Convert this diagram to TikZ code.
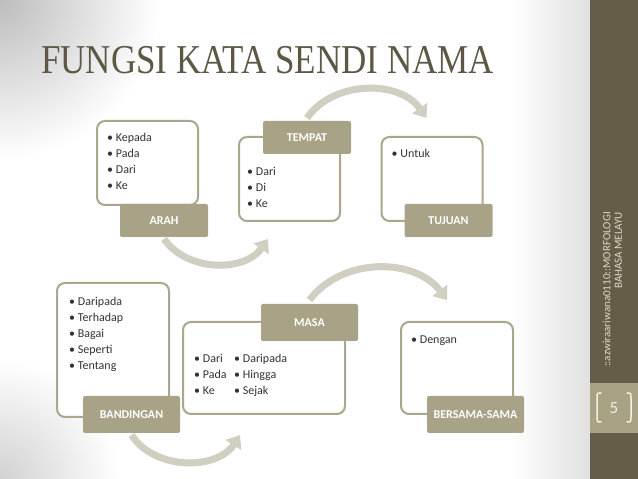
\documentclass[tikz,border=0pt]{standalone}
\usepackage{fontspec}
\setmainfont{Carlito}
\newfontfamily\titlefont[FakeStretch=0.853]{Liberation Serif}
\usetikzlibrary{positioning,arrows.meta,calc}
\definecolor{olivedark}{HTML}{655D47}
\definecolor{olivetag}{HTML}{A8A386}
\definecolor{oliveline}{HTML}{ABA78A}
\definecolor{olivepage}{HTML}{A6A282}
\definecolor{arcgrey}{HTML}{D0CFC2}
\definecolor{sidetext}{HTML}{DEDACA}
\definecolor{titlecol}{HTML}{5E5745}
\definecolor{numcol}{HTML}{F1EFE6}
\tikzset{
    every node/.style={font=\fontsize{12}{16}\selectfont},
    listbox/.style={rectangle,rounded corners=8pt,draw=oliveline,line width=2pt,fill=white,outer sep=0pt,minimum width=101pt,minimum height=84pt},
    tag/.style={rectangle,rounded corners=2pt,fill=olivetag,text=white,font=\fontsize{12}{14}\selectfont\bfseries,outer sep=0pt,minimum width=88pt,minimum height=33pt},
    bigtag/.style={tag,minimum width=97pt,minimum height=37pt},
    items/.style={align=left,inner sep=0pt,text=black!80},
    flow/.style={draw=arcgrey,line width=7pt,-{Triangle[width=18pt,length=12pt]}},
    numbrace/.style={draw=numcol,line width=1.5pt,line cap=round}
}
\begin{document}
\begin{tikzpicture}[x=1pt,y=1pt]
    \useasboundingbox (0,0) rectangle (638,479);
    \fill[white] (0,0) rectangle (638,479);
    \begin{scope}
        \clip (0,0) rectangle (590,479);
        \shade[inner color=black!26,outer color=white] (0,479) circle (160);
        \shade[inner color=black!18,outer color=white] (0,0) circle (120);
        \shade[left color=white,right color=black!12] (510,0) rectangle (590,479);
    \end{scope}
    \fill[olivedark] (590,0) rectangle (638,479);
    \fill[olivepage] (590,46) rectangle (638,96);

    \node[anchor=base west,inner sep=0pt,text=titlecol,font=\titlefont\fontsize{41}{41}\selectfont] (title) at (41,405) {FUNGSI KATA SENDI NAMA};

    \node[listbox] (arahbox) at (147.5,316) {};
    \node[listbox] (tempatbox) at (289.5,300) {};
    \node[listbox] (tujuanbox) at (432,300) {};
    \node[listbox,minimum width=112pt,minimum height=134pt] (bandinganbox) at (113,129) {};
    \node[listbox,minimum width=162pt,minimum height=92pt] (masabox) at (264,111) {};
    \node[listbox,minimum width=112pt,minimum height=92pt] (bersamabox) at (457,111) {};

    \node[tag,anchor=north east] (arah) at ([shift={(10,1)}]arahbox.south east) {ARAH};
    \node[tag,anchor=north east] (tempat) at ([shift={(11,16)}]tempatbox.north east) {TEMPAT};
    \node[tag,anchor=north east] (tujuan) at ([shift={(10,17)}]tujuanbox.south east) {TUJUAN};
    \node[bigtag,anchor=north east] (bandingan) at ([shift={(11,21)}]bandinganbox.south east) {BANDINGAN};
    \node[bigtag,anchor=north east] (masa) at ([shift={(13,18)}]masabox.north east) {MASA};
    \node[bigtag,anchor=north east] (bersama) at ([shift={(11,18)}]bersamabox.south east) {BERSAMA-SAMA};

    \node[items,below right=9pt and 10pt of arahbox.north west] (arahlist) {\strut• Kepada\\• Pada\\• Dari\\• Ke};
    \node[items,below right=27pt and 8pt of tempatbox.north west] (tempatlist) {\strut• Dari\\• Di\\• Ke};
    \node[items,below right=9pt and 10pt of tujuanbox.north west] (tujuanlist) {\strut• Untuk};
    \node[items,below right=11pt and 12pt of bandinganbox.north west] (bandinganlist) {\strut• Daripada\\• Terhadap\\• Bagai\\• Seperti\\• Tentang};
    \node[items,below right=29pt and 11pt of masabox.north west] (masalist) {\strut• Dari\\• Pada\\• Ke};
    \node[items,below right=29pt and 51pt of masabox.north west] (masalist2) {\strut• Daripada\\• Hingga\\• Sejak};
    \node[items,below right=10pt and 10pt of bersamabox.north west] (bersamalist) {\strut• Dengan};

    \coordinate (a1s) at ([yshift=-2]arah.south);
    \coordinate (a1e) at ([shift={(29,-18)}]tempatbox.south west);
    \coordinate (a2s) at ([yshift=3]tempat.north);
    \coordinate (a2e) at ([shift={(45,19)}]tujuanbox.north west);
    \coordinate (a3s) at ([yshift=4]masa.north);
    \coordinate (a3e) at ([shift={(46,22)}]bersamabox.north west);
    \coordinate (a4s) at ([yshift=-2]bandingan.south);
    \coordinate (a4e) at ([shift={(57,-21)}]masabox.south west);
    \draw[flow] (a1s) to[out=-55,in=-125] (a1e);
    \draw[flow] (a2s) to[out=55,in=125] (a2e);
    \draw[flow] (a3s) to[out=53,in=127] (a3e);
    \draw[flow] (a4s) to[out=-57,in=-123] (a4e);

    \node[rotate=90,anchor=east,align=right,inner sep=0pt,text=sidetext,font=\fontsize{11}{11.5}\selectfont] (credit) at (612.5,267) {::azwiraariwana0110::MORFOLOGI\\BAHASA MELAYU};
    \node[text=numcol,font=\fontsize{17}{17}\selectfont] (pagenum) at (614,71) {5};
    \draw[numbrace] (601,86) .. controls (597,86) .. (597,81) -- (597,62) .. controls (597,57) .. (601,57);
    \draw[numbrace] (627,86) .. controls (631,86) .. (631,81) -- (631,62) .. controls (631,57) .. (627,57);
\end{tikzpicture}
\end{document}
